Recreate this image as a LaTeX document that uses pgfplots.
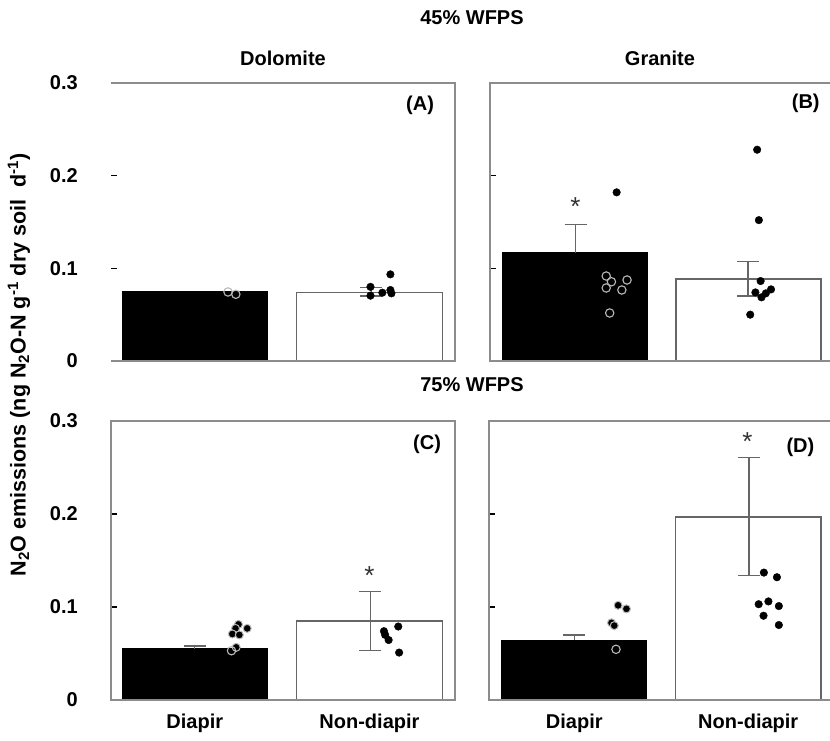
\documentclass[border=0pt]{standalone}
\usepackage{pgfplots}
\pgfplotsset{compat=1.18}
\usepackage{fontspec}
\setmainfont{Liberation Sans}
\definecolor{framec}{gray}{0.55}
\definecolor{edgec}{gray}{0.40}
\newcommand\lbl{\fontsize{20bp}{24bp}\selectfont\bfseries}
\tikzset{framel/.style={draw=framec, line width=1.6bp}}
\pgfplotsset{
  panel/.style={
    scale only axis, width=344bp, height=278bp,
    ymin=0, ymax=0.3, xmin=-0.48, xmax=1.49,
    ytick={0.1,0.2}, extra y ticks={0,0.3},
    extra y tick style={major tick length=0pt},
    xtick={0,1}, xticklabels={},
    axis line style={draw=none},
    tick align=inside, major tick length=6bp,
    ytick pos=left,
    major x tick style={draw=none},
    ytick style={draw=black, line width=1.2bp},
    yticklabels={}, extra y tick labels={},
    /pgf/number format/assume math mode=true,
    tick label style={font=\lbl},
    yticklabel style={inner sep=0pt, xshift=-33bp},
    xticklabel style={inner sep=0pt, yshift=-14bp},
    clip=false,
  },
  leftpanel/.style={yticklabels={0.1,0.2}, extra y tick labels={0,0.3}},
  blackbar/.style={ybar, bar width=0.834, bar shift=0pt, fill=black, draw=black, line width=1bp},
  whitebar/.style={ybar, bar width=0.834, bar shift=0pt, fill=white, draw=edgec, line width=1.5bp},
  errb/.style={draw=none, mark=none, forget plot, error bars/.cd, y explicit, y dir=#1,
     error bar style={draw=edgec, line width=1.3bp},
     error mark=|,
     error mark options={draw=edgec, line width=1.3bp, mark size=11bp}},
  fdot/.style={only marks, mark=*, mark size=3.8bp, mark options={fill=black, draw=black}},
  gdot/.style={only marks, mark=*, mark size=4bp, mark options={fill=black, draw=gray!55, line width=1bp}},
  odot/.style={only marks, mark=o, mark size=4.2bp, mark options={draw=gray!55, line width=1.1bp, fill=none}},
}
\newcommand\sigstar[2]{\node[anchor=north, inner sep=0pt, text=black!80, font=\fontsize{26bp}{26bp}\selectfont] at (axis cs:#1,#2) {*};}
\begin{document}
\begin{tikzpicture}
\useasboundingbox (0,0) rectangle (830bp,741bp);
% ---------- (A) ----------
\begin{axis}[panel, leftpanel, at={(111bp,380bp)}, anchor=south west]
  \addplot[blackbar] coordinates {(0,0.075)};
  \addplot[whitebar] coordinates {(1,0.074)};
  \addplot[errb=both] coordinates {(1.01,0.0748) +- (0,0.0047)};
  \addplot[odot] coordinates {(0.19,0.0745) (0.235,0.072)};
  \addplot[fdot] coordinates {(1.006,0.080) (1.006,0.0705) (1.074,0.0737) (1.12,0.0766) (1.126,0.073) (1.12,0.0935)};
  \draw[framel] (rel axis cs:0,1) -- (rel axis cs:1,1) -- (rel axis cs:1,0) -- (rel axis cs:0,0);
  \node[font=\lbl] at (axis cs:1.29,0.276) {(A)};
\end{axis}
% ---------- (B) ----------
\begin{axis}[panel, width=340bp, xmin=-0.49, xmax=1.47, at={(490bp,380bp)}, anchor=south west]
  \addplot[blackbar] coordinates {(0,0.117)};
  \addplot[whitebar] coordinates {(1,0.0885)};
  \addplot[errb=plus] coordinates {(0.003,0.117) +- (0,0.030)};
  \addplot[errb=both] coordinates {(0.998,0.0885) +- (0,0.0185)};
  \sigstar{0.003}{0.176}
  \addplot[odot] coordinates {(0.18,0.0917) (0.21,0.0855) (0.18,0.0788) (0.30,0.0874) (0.27,0.0766) (0.20,0.0518)};
  \addplot[fdot] coordinates {(0.24,0.182)};
  \addplot[fdot] coordinates {(1.05,0.228) (1.06,0.152) (1.07,0.0863) (1.04,0.074) (1.075,0.0687) (1.10,0.073) (1.13,0.0773) (1.01,0.050)};
  \draw[framel] (rel axis cs:1,1) -- (rel axis cs:0,1) -- (rel axis cs:0,0) -- (rel axis cs:1,0);
  \node[font=\lbl] at (axis cs:1.33,0.278) {(B)};
\end{axis}
% ---------- (C) ----------
\begin{axis}[panel, leftpanel, height=279bp, at={(111bp,41bp)}, anchor=south west,
  xticklabels={Diapir,Non-diapir}]
  \addplot[blackbar] coordinates {(0,0.055)};
  \addplot[whitebar] coordinates {(1,0.085)};
  \addplot[errb=plus] coordinates {(0,0.055) +- (0,0.003)};
  \addplot[errb=both] coordinates {(1.006,0.085) +- (0,0.0315)};
  \sigstar{1.0}{0.144}
  \addplot[gdot] coordinates {(0.25,0.0813) (0.233,0.077) (0.30,0.077) (0.215,0.071) (0.255,0.070) (0.237,0.0566)};
  \addplot[odot] coordinates {(0.21,0.053)};
  \addplot[fdot] coordinates {(1.165,0.079) (1.083,0.074) (1.09,0.070) (1.11,0.0645) (1.17,0.051)};
  \draw[framel] (rel axis cs:0,0) rectangle (rel axis cs:1,1);
  \node[font=\lbl] at (axis cs:1.33,0.275) {(C)};
\end{axis}
% ---------- (D) ----------
\begin{axis}[panel, width=341bp, height=279bp, xmin=-0.49, xmax=1.47, at={(489bp,41bp)}, anchor=south west,
  xticklabels={Diapir,Non-diapir}]
  \addplot[blackbar] coordinates {(0,0.0645)};
  \addplot[whitebar] coordinates {(1,0.197)};
  \addplot[errb=plus] coordinates {(0,0.0645) +- (0,0.0055)};
  \addplot[errb=both] coordinates {(1.005,0.197) +- (0,0.0635)};
  \sigstar{0.996}{0.288}
  \addplot[gdot] coordinates {(0.252,0.1018) (0.30,0.098) (0.214,0.083) (0.23,0.080)};
  \addplot[odot] coordinates {(0.24,0.0545)};
  \addplot[fdot] coordinates {(1.09,0.137) (1.165,0.132) (1.06,0.103) (1.116,0.106) (1.176,0.101) (1.088,0.0906) (1.176,0.0806)};
  \draw[framel] (rel axis cs:1,1) -- (rel axis cs:0,1) -- (rel axis cs:0,0) -- (rel axis cs:1,0);
  \node[font=\lbl] at (axis cs:1.30,0.272) {(D)};
\end{axis}
% ---------- titles ----------
\node[font=\lbl] at (472bp,723bp) {45\% WFPS};
\node[font=\lbl] at (472bp,356bp) {75\% WFPS};
\node[font=\lbl] at (283bp,683bp) {Dolomite};
\node[font=\lbl] at (660bp,683bp) {Granite};
\node[font=\fontsize{21.5bp}{24bp}\selectfont\bfseries, rotate=90] at (19bp,376bp) {N\textsubscript{2}O emissions (ng N\textsubscript{2}O-N  g\textsuperscript{-1} dry soil \ d\textsuperscript{-1})};
\end{tikzpicture}
\end{document}
